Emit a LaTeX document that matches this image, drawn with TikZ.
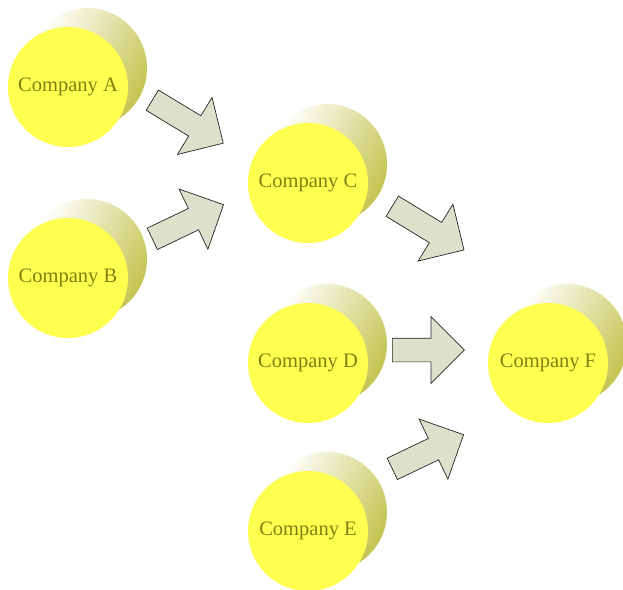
\documentclass[tikz,border=0pt]{standalone}
\usepackage{fontspec}
\setmainfont{Liberation Serif}
\usepackage{tikz}
\usetikzlibrary{shapes,arrows,shadows,positioning,calc}
\definecolor{discyellow}{RGB}{255,255,80}
\definecolor{shadowolive}{RGB}{196,196,80}
\definecolor{labelolive}{RGB}{128,128,20}
\definecolor{arrowgrey}{RGB}{222,224,204}

\begin{document}
\begin{tikzpicture}[x=0.3mm, y=-0.3mm,
    company/.style={circle, fill=discyellow, minimum size=3.6cm, inner sep=0pt,
        text=labelolive, font=\fontsize{17.5}{20}\selectfont,
        general shadow={shadow xshift=0.57cm, shadow yshift=0.57cm,
            left color=white, right color=shadowolive, shading angle=60}},
    flowarrow/.style={single arrow, draw=black!85, line width=0.6pt, fill=arrowgrey,
        inner sep=0.345cm, single arrow head extend=0.645cm, single arrow tip angle=90,
        anchor=tail}
]
    \useasboundingbox (0,0) rectangle (623,589);

    % Companies
    \node[company] (compA) at (68,87) {Company A};
    \node[company] (compB) at (68,278) {Company B};
    \node[company] (compC) at (308,183) {Company C};
    \node[company] (compD) at (308,363) {Company D};
    \node[company] (compE) at (308,531) {Company E};
    \node[company] (compF) at (548,363) {Company F};

    % Arrows into Company C
    \node[flowarrow, minimum height=2.49cm, rotate=-31.2] (arrAC) at (152,100) {};
    \node[flowarrow, minimum height=2.37cm, rotate=25.6] (arrBC) at (152,239) {};

    % Arrows into Company F
    \node[flowarrow, minimum height=2.52cm, rotate=-31.4] (arrCF) at (392,206) {};
    \node[flowarrow, minimum height=2.16cm] (arrDF) at (392,350) {};
    \node[flowarrow, minimum height=2.37cm, rotate=25.6] (arrEF) at (392,469) {};
\end{tikzpicture}
\end{document}
